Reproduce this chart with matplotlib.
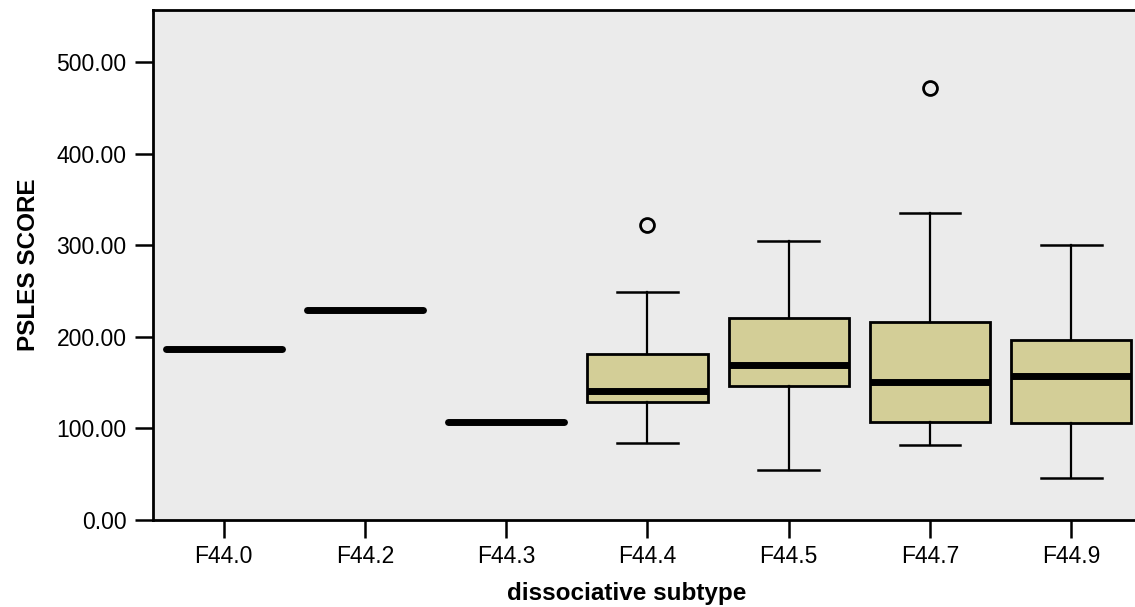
import matplotlib.pyplot as plt

# dissociative subtype groups and PSLES score box statistics
groups = ["F44.0", "F44.2", "F44.3", "F44.4", "F44.5", "F44.7", "F44.9"]
whislo = [187, 229, 107, 84, 55, 82, 46]
q1 = [187, 229, 107, 129, 146, 107, 106]
med = [187, 229, 107, 141, 169, 151, 157]
q3 = [187, 229, 107, 181, 221, 216, 197]
whishi = [187, 229, 107, 249, 305, 335, 300]
outliers = [[], [], [], [322], [], [472], []]

plt.rcParams['font.family'] = ['Liberation Sans', 'DejaVu Sans']

stats = []
for i, g in enumerate(groups):
    stats.append({"label": g, "whislo": whislo[i], "q1": q1[i], "med": med[i],
                  "q3": q3[i], "whishi": whishi[i], "fliers": outliers[i]})

fig = plt.figure(figsize=(11.35, 6.07), dpi=100)
ax = fig.add_axes([0.1348, 0.1433, 0.8713, 0.8402])
ax.set_facecolor("#EBEBEB")

single = [i for i in range(len(groups)) if q1[i] == q3[i]]
multi = [i for i in range(len(groups)) if q1[i] != q3[i]]

ax.bxp([stats[i] for i in multi], positions=multi, widths=0.85, patch_artist=True,
       boxprops=dict(facecolor="#D3CE97", edgecolor="black", linewidth=2),
       medianprops=dict(color="black", linewidth=5, solid_capstyle="butt"),
       whiskerprops=dict(color="black", linewidth=1.6),
       capprops=dict(color="black", linewidth=1.8),
       capwidths=0.43,
       flierprops=dict(marker="o", markerfacecolor="none", markeredgecolor="black",
                       markersize=10, markeredgewidth=2))
ax.bxp([stats[i] for i in single], positions=single, widths=0.82, showcaps=False,
       boxprops=dict(linewidth=0), whiskerprops=dict(linewidth=0),
       medianprops=dict(color="black", linewidth=5, solid_capstyle="round"),
       showfliers=False)

ax.set_xlim(-0.5, 6.5)
ax.set_ylim(0, 557)
ax.set_xticks(range(len(groups)))
ax.set_xticklabels(groups)
ax.set_yticks([0, 100, 200, 300, 400, 500])
ax.set_yticklabels(["0.00", "100.00", "200.00", "300.00", "400.00", "500.00"])
ax.tick_params(axis="both", labelsize=16.5, length=13, width=1.8, colors="black")
ax.tick_params(axis="x", pad=5)
ax.tick_params(axis="y", pad=6)
for s in ax.spines.values():
    s.set_linewidth(2)

ax.set_xlabel("dissociative subtype", fontsize=17.5, fontweight="bold")
ax.xaxis.set_label_coords(0.479, -0.121)
ax.set_ylabel("PSLES SCORE", fontsize=17.5, fontweight="bold", labelpad=12)

fig.savefig("out.png", dpi=100)
